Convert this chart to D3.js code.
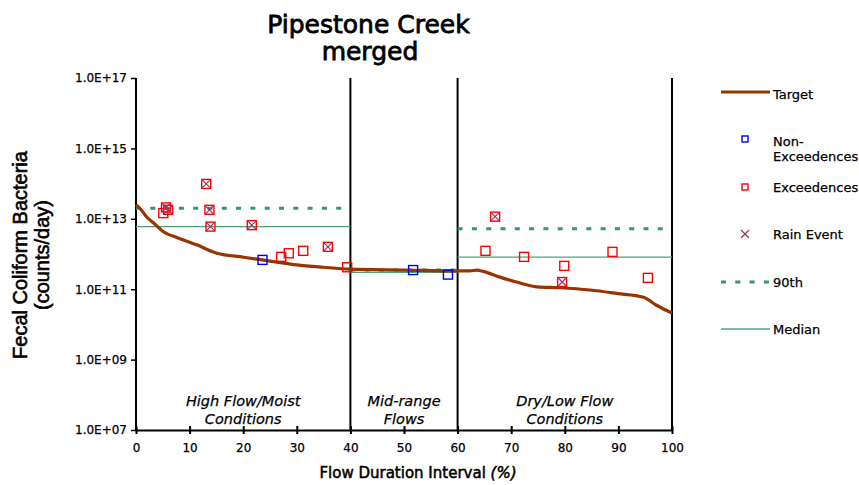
<!DOCTYPE html>
<html lang="en">
<head>
<meta charset="utf-8">
<title>Pipestone Creek merged</title>
<script src="https://d3js.org/d3.v7.min.js"></script>
<style>
  body { margin: 0; background: #fff; }
  svg { font-family: "DejaVu Sans", Verdana, sans-serif; }
  svg text { stroke: #000; stroke-width: 0.25px; }
</style>
</head>
<body>
<script>
// flow duration interval (%) and load (counts/day)
var targetX = [0, 1, 2, 3.5, 5.1, 7.6, 11.3, 15.1, 20.1, 25, 30, 34.9, 40, 50, 59.8, 62.3, 63.6, 64.8, 67.9, 71, 74.8, 79.1, 84.7, 89.7, 94.7, 97.1, 100];
var targetY = [2.45e13, 1.78e13, 1.12e13, 7.1e12, 4.3e12, 2.95e12, 1.82e12, 1.05e12, 8.1e11, 6.3e11, 4.9e11, 4.2e11, 3.7e11, 3.5e11, 3.3e11, 3.3e11, 3.5e11, 3.2e11, 2.2e11, 1.6e11, 1.17e11, 1.1e11, 9.5e10, 7.6e10, 5.9e10, 3.5e10, 2.1e10];

var nonExcX = [23.6, 51.7, 58.2];
var nonExcY = [6.8e11, 3.5e11, 2.6e11];

var excX = [5.1, 5.6, 6.0, 13.1, 13.7, 13.9, 21.6, 27.1, 28.5, 31.2, 35.8, 39.4, 65.2, 67.0, 72.4, 79.9, 79.5, 88.9, 95.5];
var excY = [1.45e13, 2.1e13, 1.8e13, 9.8e13, 1.8e13, 6.0e12, 6.6e12, 8.3e11, 1.05e12, 1.23e12, 1.6e12, 4.2e11, 1.23e12, 1.15e13, 8.3e11, 4.6e11, 1.6e11, 1.15e12, 2.1e11];

var rainX = [5.6, 6.0, 13.1, 13.7, 13.9, 21.6, 35.8, 67.0, 79.5];
var rainY = [2.1e13, 1.8e13, 9.8e13, 1.8e13, 6.0e12, 6.6e12, 1.6e12, 1.15e13, 1.6e11];

// zone boundaries and the 90th / median value in each zone
var zoneStart = [0, 40, 60];
var zoneEnd = [40, 60, 100];
var ninetieth = [2.0e13, 3.5e11, 5.2e12];
var median = [6.0e12, 3.0e11, 8.1e11];
var zoneLabels = [["High Flow/Moist", "Conditions"], ["Mid-range", "Flows"], ["Dry/Low Flow", "Conditions"]];

var xTicks = [0, 10, 20, 30, 40, 50, 60, 70, 80, 90, 100];
var yTicks = [1e7, 1e9, 1e11, 1e13, 1e15, 1e17];
var yTickLabels = ["1.0E+07", "1.0E+09", "1.0E+11", "1.0E+13", "1.0E+15", "1.0E+17"];

var W = 859, H = 485;
var pL = 136, pR = 672, pT = 78, pB = 430;

var svg = d3.select("body").append("svg")
    .attr("width", W)
    .attr("height", H);

var x = d3.scaleLinear().domain([0, 100]).range([pL, pR]);
var y = d3.scaleLog().domain([1e7, 1e17]).range([pB, pT]);

// title
svg.append("text").attr("x", 368.5).attr("y", 33)
    .attr("text-anchor", "middle").attr("font-size", 25)
    .style("stroke-width", "0.8px")
    .text("Pipestone Creek");
svg.append("text").attr("x", 370).attr("y", 60)
    .attr("text-anchor", "middle").attr("font-size", 25)
    .style("stroke-width", "0.8px")
    .text("merged");

// zone separators and right border
[40, 60, 100].forEach(function(v) {
  svg.append("line")
    .attr("x1", x(v)).attr("x2", x(v))
    .attr("y1", pT).attr("y2", pB)
    .attr("stroke", "#000").attr("stroke-width", 2);
});

// y axis
var yAxis = d3.axisLeft(y)
    .tickValues(yTicks)
    .tickSize(5)
    .tickPadding(4)
    .tickFormat(function(d, i) { return yTickLabels[i]; });
var gy = svg.append("g").attr("transform", "translate(" + pL + ",0)").call(yAxis);
gy.select(".domain").attr("stroke-width", 2).attr("d", "M0," + pT + "V" + pB);
gy.selectAll(".tick line").attr("stroke-width", 1.5);
gy.selectAll("text").attr("font-size", 12).attr("font-family", "DejaVu Sans, sans-serif");

// x axis (ticks cross the line)
var xAxis = d3.axisBottom(x)
    .tickValues(xTicks)
    .tickSizeInner(4)
    .tickSizeOuter(0)
    .tickPadding(9);
var gx = svg.append("g").attr("transform", "translate(0," + pB + ")").call(xAxis);
gx.select(".domain").attr("stroke-width", 2);
gx.selectAll(".tick line").attr("y1", -4).attr("stroke-width", 2);
gx.selectAll("text").attr("font-size", 12).attr("font-family", "DejaVu Sans, sans-serif");

// axis titles
var yt = svg.append("text")
    .attr("transform", "translate(27,255) rotate(-90)")
    .attr("text-anchor", "middle").attr("font-size", 20)
    .attr("font-family", "Liberation Sans, Arial, sans-serif")
    .style("stroke-width", "0.6px");
yt.append("tspan").attr("x", 0).attr("dy", 0).text("Fecal Coliform Bacteria");
yt.append("tspan").attr("x", 0).attr("dy", 21.5).text("(counts/day)");

var xt = svg.append("text").attr("x", 418).attr("y", 478)
    .attr("text-anchor", "middle").attr("font-size", 15)
    .style("stroke-width", "0.5px");
xt.append("tspan").text("Flow Duration Interval ");
xt.append("tspan").attr("font-style", "italic").text("(%)");

// zone labels
zoneLabels.forEach(function(lbl, i) {
  var cx = x((zoneStart[i] + zoneEnd[i]) / 2);
  lbl.forEach(function(t, j) {
    svg.append("text").attr("x", cx).attr("y", 406 + j * 18)
      .attr("text-anchor", "middle").attr("font-size", 14.5).attr("font-style", "italic")
      .text(t);
  });
});

// median and 90th lines
svg.selectAll(".median").data(median).enter().append("line")
    .attr("x1", function(d, i) { return x(zoneStart[i]); })
    .attr("x2", function(d, i) { return x(zoneEnd[i]); })
    .attr("y1", function(d) { return y(d); })
    .attr("y2", function(d) { return y(d); })
    .attr("stroke", "#4fa37a").attr("stroke-width", 1.3);

svg.selectAll(".ninety").data(ninetieth).enter().append("line")
    .attr("x1", function(d, i) { return x(zoneStart[i]); })
    .attr("x2", function(d, i) { return x(zoneEnd[i]); })
    .attr("y1", function(d) { return y(d); })
    .attr("y2", function(d) { return y(d); })
    .attr("stroke", "#339966").attr("stroke-width", 3)
    .attr("stroke-dasharray", "5,9.3");

// target curve
var line = d3.line()
    .x(function(d, i) { return x(targetX[i]); })
    .y(function(d) { return y(d); })
    .curve(d3.curveMonotoneX);
svg.append("path").datum(targetY)
    .attr("d", line)
    .attr("fill", "none").attr("stroke", "#993300").attr("stroke-width", 3.2)
    .attr("stroke-linejoin", "round");

// points
function squares(xs, ys, color, s) {
  svg.append("g").selectAll("rect").data(ys).enter().append("rect")
    .attr("x", function(d, i) { return x(xs[i]) - s / 2; })
    .attr("y", function(d) { return y(d) - s / 2; })
    .attr("width", s).attr("height", s)
    .attr("fill", "none").attr("stroke", color).attr("stroke-width", 1.4);
}
squares(nonExcX, nonExcY, "#0000ff", 9);
squares(excX, excY, "#ff0000", 9);

function crosses(xs, ys, s, g) {
  ys.forEach(function(d, i) {
    var cx = x(xs[i]), cy = y(d);
    g.append("path")
      .attr("d", "M" + (cx - s) + "," + (cy - s) + "L" + (cx + s) + "," + (cy + s) +
                 "M" + (cx - s) + "," + (cy + s) + "L" + (cx + s) + "," + (cy - s))
      .attr("stroke", "#993366").attr("stroke-width", 1.2).attr("fill", "none");
  });
}
crosses(rainX, rainY, 4, svg.append("g"));

// legend
var lg = svg.append("g").attr("font-size", 13);
lg.append("line").attr("x1", 721).attr("x2", 770).attr("y1", 92).attr("y2", 92)
    .attr("stroke", "#993300").attr("stroke-width", 3.2);
lg.append("text").attr("x", 773).attr("y", 98.5).text("Target");

lg.append("rect").attr("x", 742).attr("y", 136).attr("width", 6).attr("height", 6)
    .attr("fill", "none").attr("stroke", "#0000ff").attr("stroke-width", 1.4);
lg.append("text").attr("x", 773).attr("y", 145.5).text("Non-");
lg.append("text").attr("x", 773).attr("y", 161).text("Exceedences");

lg.append("rect").attr("x", 742).attr("y", 184).attr("width", 6).attr("height", 6)
    .attr("fill", "none").attr("stroke", "#ff0000").attr("stroke-width", 1.4);
lg.append("text").attr("x", 773).attr("y", 192).text("Exceedences");

lg.append("path").attr("d", "M741,230L749,238M741,238L749,230")
    .attr("stroke", "#993366").attr("stroke-width", 1.2);
lg.append("text").attr("x", 773).attr("y", 239).text("Rain Event");

lg.append("line").attr("x1", 721).attr("x2", 770).attr("y1", 282).attr("y2", 282)
    .attr("stroke", "#339966").attr("stroke-width", 3).attr("stroke-dasharray", "5,9.3");
lg.append("text").attr("x", 773).attr("y", 287).text("90th");

lg.append("line").attr("x1", 721).attr("x2", 770).attr("y1", 329).attr("y2", 329)
    .attr("stroke", "#4fa37a").attr("stroke-width", 1.3);
lg.append("text").attr("x", 773).attr("y", 333.5).text("Median");
</script>
</body>
</html>
